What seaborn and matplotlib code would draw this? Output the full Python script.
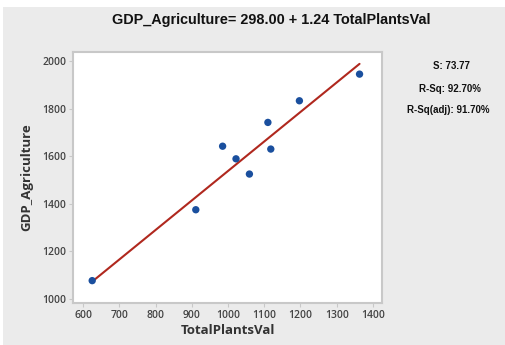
import matplotlib
matplotlib.use("Agg")
import matplotlib.pyplot as plt
import seaborn as sns
import numpy as np
import pandas as pd
from matplotlib.patches import Rectangle

total_plants = [625, 911, 985, 1022, 1059, 1110, 1118, 1197, 1363]
gdp_agri = [1077, 1375, 1642, 1589, 1525, 1742, 1630, 1833, 1945]
intercept = 298.00
slope = 1.24
stats_text = ["S: 73.77", "R-Sq: 92.70%", "R-Sq(adj): 91.70%"]
x_ticks = [600, 700, 800, 900, 1000, 1100, 1200, 1300, 1400]
y_ticks = [1000, 1200, 1400, 1600, 1800, 2000]

sns.set_theme(style="white")
plt.rcParams['font.family'] = ['Open Sans', 'DejaVu Sans']

df = pd.DataFrame({"TotalPlantsVal": total_plants, "GDP_Agriculture": gdp_agri})
xl = np.array([min(total_plants), max(total_plants)])
line_df = pd.DataFrame({"x": xl, "y": intercept + slope * xl})

fig = plt.figure(figsize=(5.06, 3.45), dpi=100)
fig.patch.set_facecolor("white")
fig.patches.append(Rectangle((3/506, 0), 1, 1 - 7/345, transform=fig.transFigure,
                             facecolor="#ebebeb", edgecolor="none", zorder=-10))

ax = fig.add_axes([73/506, 1 - 303/345, (382 - 73)/506, (303 - 52)/345])
ax.set_facecolor("white")

sns.lineplot(data=line_df, x="x", y="y", ax=ax, color="#b0281e", linewidth=1.5)
sns.scatterplot(data=df, x="TotalPlantsVal", y="GDP_Agriculture", ax=ax,
                color="#1a4f9e", s=28, edgecolor="none", zorder=3)

ax.set_xlim(572, 1425)
ax.set_ylim(983, 2038)
ax.set_xticks(x_ticks)
ax.set_yticks(y_ticks)
ax.tick_params(axis="both", labelsize=7.5, colors="#c8c8c8", labelcolor="#444444",
               length=3, width=0.8, direction="out", bottom=True, left=True, pad=2)
for lab in ax.get_xticklabels() + ax.get_yticklabels():
    lab.set_fontweight("semibold")
for sp in ax.spines.values():
    sp.set_color("#c8c8c8")
    sp.set_linewidth(1.5)

ax.set_xlabel("TotalPlantsVal", fontsize=9.5, fontweight="bold", color="#333333", labelpad=2)
ax.set_ylabel("GDP_Agriculture", fontsize=9.5, fontweight="bold", color="#333333", labelpad=6)

fig.text(271/506, 1 - 20/345, f"GDP_Agriculture= {intercept:.2f} + {slope:.2f} TotalPlantsVal",
         ha="center", va="center", fontsize=10.4, fontweight="bold",
         family=["Liberation Sans", "DejaVu Sans"], color="#111111")

ys = [66, 89, 110]
xs = [451, 450, 448]
for t, xx, yy in zip(stats_text, xs, ys):
    fig.text(xx/506, 1 - yy/345, t, ha="center", va="center", fontsize=7, fontweight="bold",
             family=["Liberation Sans", "DejaVu Sans"], color="#111111")

fig.savefig("out.png", dpi=100, facecolor=fig.get_facecolor())
